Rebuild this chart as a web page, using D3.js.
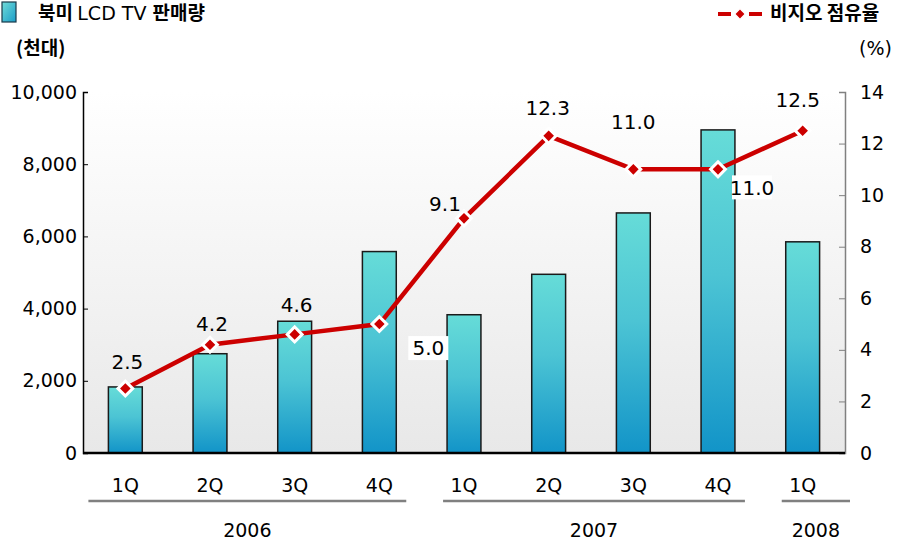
<!DOCTYPE html>
<html>
<head>
<meta charset="utf-8">
<script src="https://cdn.jsdelivr.net/npm/d3@7"></script>
<style>
  html, body { margin: 0; padding: 0; background: #fff; overflow: hidden; }
  svg { display: block; }
  text { font-family: "DejaVu Sans", Verdana, sans-serif; }
  .kr { font-family: "Noto Sans CJK KR", sans-serif; font-weight: bold; }
</style>
</head>
<body>
<div id="chart"></div>
<script>
const quarters = ['1Q', '2Q', '3Q', '4Q', '1Q', '2Q', '3Q', '4Q', '1Q'];
const sales = [1830, 2750, 3650, 5580, 3830, 4950, 6650, 8950, 5850];
const share = [2.5, 4.2, 4.6, 5.0, 9.1, 12.3, 11.0, 11.0, 12.5];
const years = ['2006', '2007', '2008'];
const yearStart = [0, 4, 8];
const yearEnd = [3, 7, 8];
const leftTicks = [0, 2000, 4000, 6000, 8000, 10000];
const rightTicks = [0, 2, 4, 6, 8, 10, 12, 14];

const W = 897, H = 546;
const margin = { t: 92, r: 52, b: 93, l: 83 };
const innerWidth = W - margin.l - margin.r;
const innerHeight = H - margin.t - margin.b;

const svg = d3.select('#chart').append('svg')
  .attr('width', W).attr('height', H);

const defs = svg.append('defs');
const bg = defs.append('linearGradient').attr('id', 'bg')
  .attr('x1', 0).attr('y1', 0).attr('x2', 0).attr('y2', 1);
bg.append('stop').attr('offset', '0%').attr('stop-color', '#ffffff');
bg.append('stop').attr('offset', '100%').attr('stop-color', '#e8e8e8');

const barGrad = defs.append('linearGradient').attr('id', 'bar')
  .attr('x1', 0).attr('y1', 0).attr('x2', 0).attr('y2', 1);
barGrad.append('stop').attr('offset', '0%').attr('stop-color', '#66dcd8');
barGrad.append('stop').attr('offset', '45%').attr('stop-color', '#4cc4d4');
barGrad.append('stop').attr('offset', '100%').attr('stop-color', '#1294c8');

const legGrad = defs.append('linearGradient').attr('id', 'leg')
  .attr('x1', 0).attr('y1', 0).attr('x2', 1).attr('y2', 1);
legGrad.append('stop').attr('offset', '0%').attr('stop-color', '#70dcd8');
legGrad.append('stop').attr('offset', '100%').attr('stop-color', '#1a9cc8');

const x = d3.scaleBand().domain(d3.range(quarters.length))
  .range([0, innerWidth]).paddingInner(0.6).paddingOuter(0.3);
const yL = d3.scaleLinear().domain([0, 10000]).range([innerHeight, 0]);
const yR = d3.scaleLinear().domain([0, 14]).range([innerHeight, 0]);

const plot = svg.append('g').attr('transform', `translate(${margin.l},${margin.t})`);

plot.append('rect').attr('width', innerWidth).attr('height', innerHeight)
  .attr('fill', 'url(#bg)');

// bars
plot.selectAll('.bar').data(sales).join('rect')
  .attr('class', 'bar')
  .attr('x', (d, i) => x(i))
  .attr('y', d => yL(d))
  .attr('width', x.bandwidth())
  .attr('height', d => innerHeight - yL(d))
  .attr('fill', 'url(#bar)')
  .attr('stroke', '#1a1a1a')
  .attr('stroke-width', 1.5);

// axes
const axisL = d3.axisLeft(yL).tickValues(leftTicks).tickSize(-5).tickPadding(6)
  .tickFormat(d3.format(','));
const gL = plot.append('g').call(axisL);
gL.select('.domain').attr('stroke', '#000').attr('stroke-width', 1.5);
gL.selectAll('.tick line').attr('stroke', '#000');
gL.selectAll('text').style('font-size', '19px').attr('fill', '#000');

const axisR = d3.axisRight(yR).tickValues(rightTicks).tickSize(-6).tickPadding(15);
const gR = plot.append('g').attr('transform', `translate(${innerWidth},0)`).call(axisR);
gR.select('.domain').attr('stroke', '#808080').attr('stroke-width', 1.5);
gR.selectAll('.tick line').attr('stroke', '#808080');
gR.selectAll('text').style('font-size', '19px').attr('fill', '#000');

plot.append('line').attr('x1', 0).attr('x2', innerWidth)
  .attr('y1', innerHeight).attr('y2', innerHeight)
  .attr('stroke', '#000').attr('stroke-width', 2.5);

// line series
const cx = i => x(i) + x.bandwidth() / 2;
const line = d3.line().x((d, i) => cx(i)).y(d => yR(d));
plot.append('path').datum(share)
  .attr('d', line).attr('fill', 'none')
  .attr('stroke', '#cc0000').attr('stroke-width', 4.5);

plot.selectAll('.pt').data(share).join('path')
  .attr('class', 'pt')
  .attr('d', d3.symbol(d3.symbolSquare, 110)())
  .attr('transform', (d, i) => `translate(${cx(i)},${yR(d)}) rotate(45)`)
  .attr('fill', '#cc0000').attr('stroke', '#fff').attr('stroke-width', 3);

// value labels
const labelOffset = [[2, -27], [2, -21], [2, -30], [49, 24], [-19, -15], [-1, -28], [0, -48], [34, 18], [-5, -31]];
const lbl = plot.selectAll('.lbl').data(share).join('g')
  .attr('class', 'lbl')
  .attr('transform', (d, i) => `translate(${cx(i) + labelOffset[i][0]},${yR(d) + labelOffset[i][1]})`);
lbl.filter((d, i) => i === 3 || i === 7).append('rect')
  .attr('x', -20).attr('y', -12).attr('width', 40).attr('height', 24)
  .attr('fill', '#fff');
lbl.append('text').text(d => d.toFixed(1))
  .attr('text-anchor', 'middle').attr('dy', '0.36em')
  .style('font-size', '20px').attr('fill', '#000');

// quarter labels
plot.selectAll('.q').data(quarters).join('text')
  .attr('class', 'q')
  .attr('x', (d, i) => cx(i)).attr('y', innerHeight + 39)
  .attr('text-anchor', 'middle').style('font-size', '19px').text(d => d);

// year groups
years.forEach((yr, k) => {
  const x0 = x(yearStart[k]) - (k === 0 ? 20 : 4);
  const x1 = k === years.length - 1 ? innerWidth + 5 : x(yearEnd[k]) + x.bandwidth() + 10;
  plot.append('line').attr('x1', x0).attr('x2', x1)
    .attr('y1', innerHeight + 48).attr('y2', innerHeight + 48)
    .attr('stroke', '#808080').attr('stroke-width', 2.5);
  plot.append('text').attr('x', (x0 + x1) / 2).attr('y', innerHeight + 84)
    .attr('text-anchor', 'middle').style('font-size', '19px').text(yr);
});

// legends and unit labels
svg.append('rect').attr('x', 2).attr('y', 2).attr('width', 14).attr('height', 20)
  .attr('fill', 'url(#leg)').attr('stroke', '#1a3a4a').attr('stroke-width', 1.2);
const t1 = svg.append('text').attr('x', 38).attr('y', 20).style('font-size', '19px');
t1.append('tspan').attr('class', 'kr').text('북미 ');
t1.append('tspan').text('LCD TV ');
t1.append('tspan').attr('class', 'kr').text('판매량');
svg.append('text').attr('class', 'kr').attr('x', 16).attr('y', 55)
  .style('font-size', '19px').text('(천대)');

svg.append('line').attr('x1', 718).attr('x2', 762).attr('y1', 14).attr('y2', 14)
  .attr('stroke', '#cc0000').attr('stroke-width', 4).attr('stroke-dasharray', '13,5,8,5,13');
svg.append('path').attr('d', d3.symbol(d3.symbolSquare, 60)())
  .attr('transform', 'translate(740,14) rotate(45)').attr('fill', '#cc0000')
  .attr('stroke', '#fff').attr('stroke-width', 1.5);
svg.append('text').attr('class', 'kr').attr('x', 770).attr('y', 20)
  .style('font-size', '19px').text('비지오 점유율');
svg.append('text').attr('x', 892).attr('y', 55).attr('text-anchor', 'end')
  .style('font-size', '19px').text('(%)');
</script>
</body>
</html>
